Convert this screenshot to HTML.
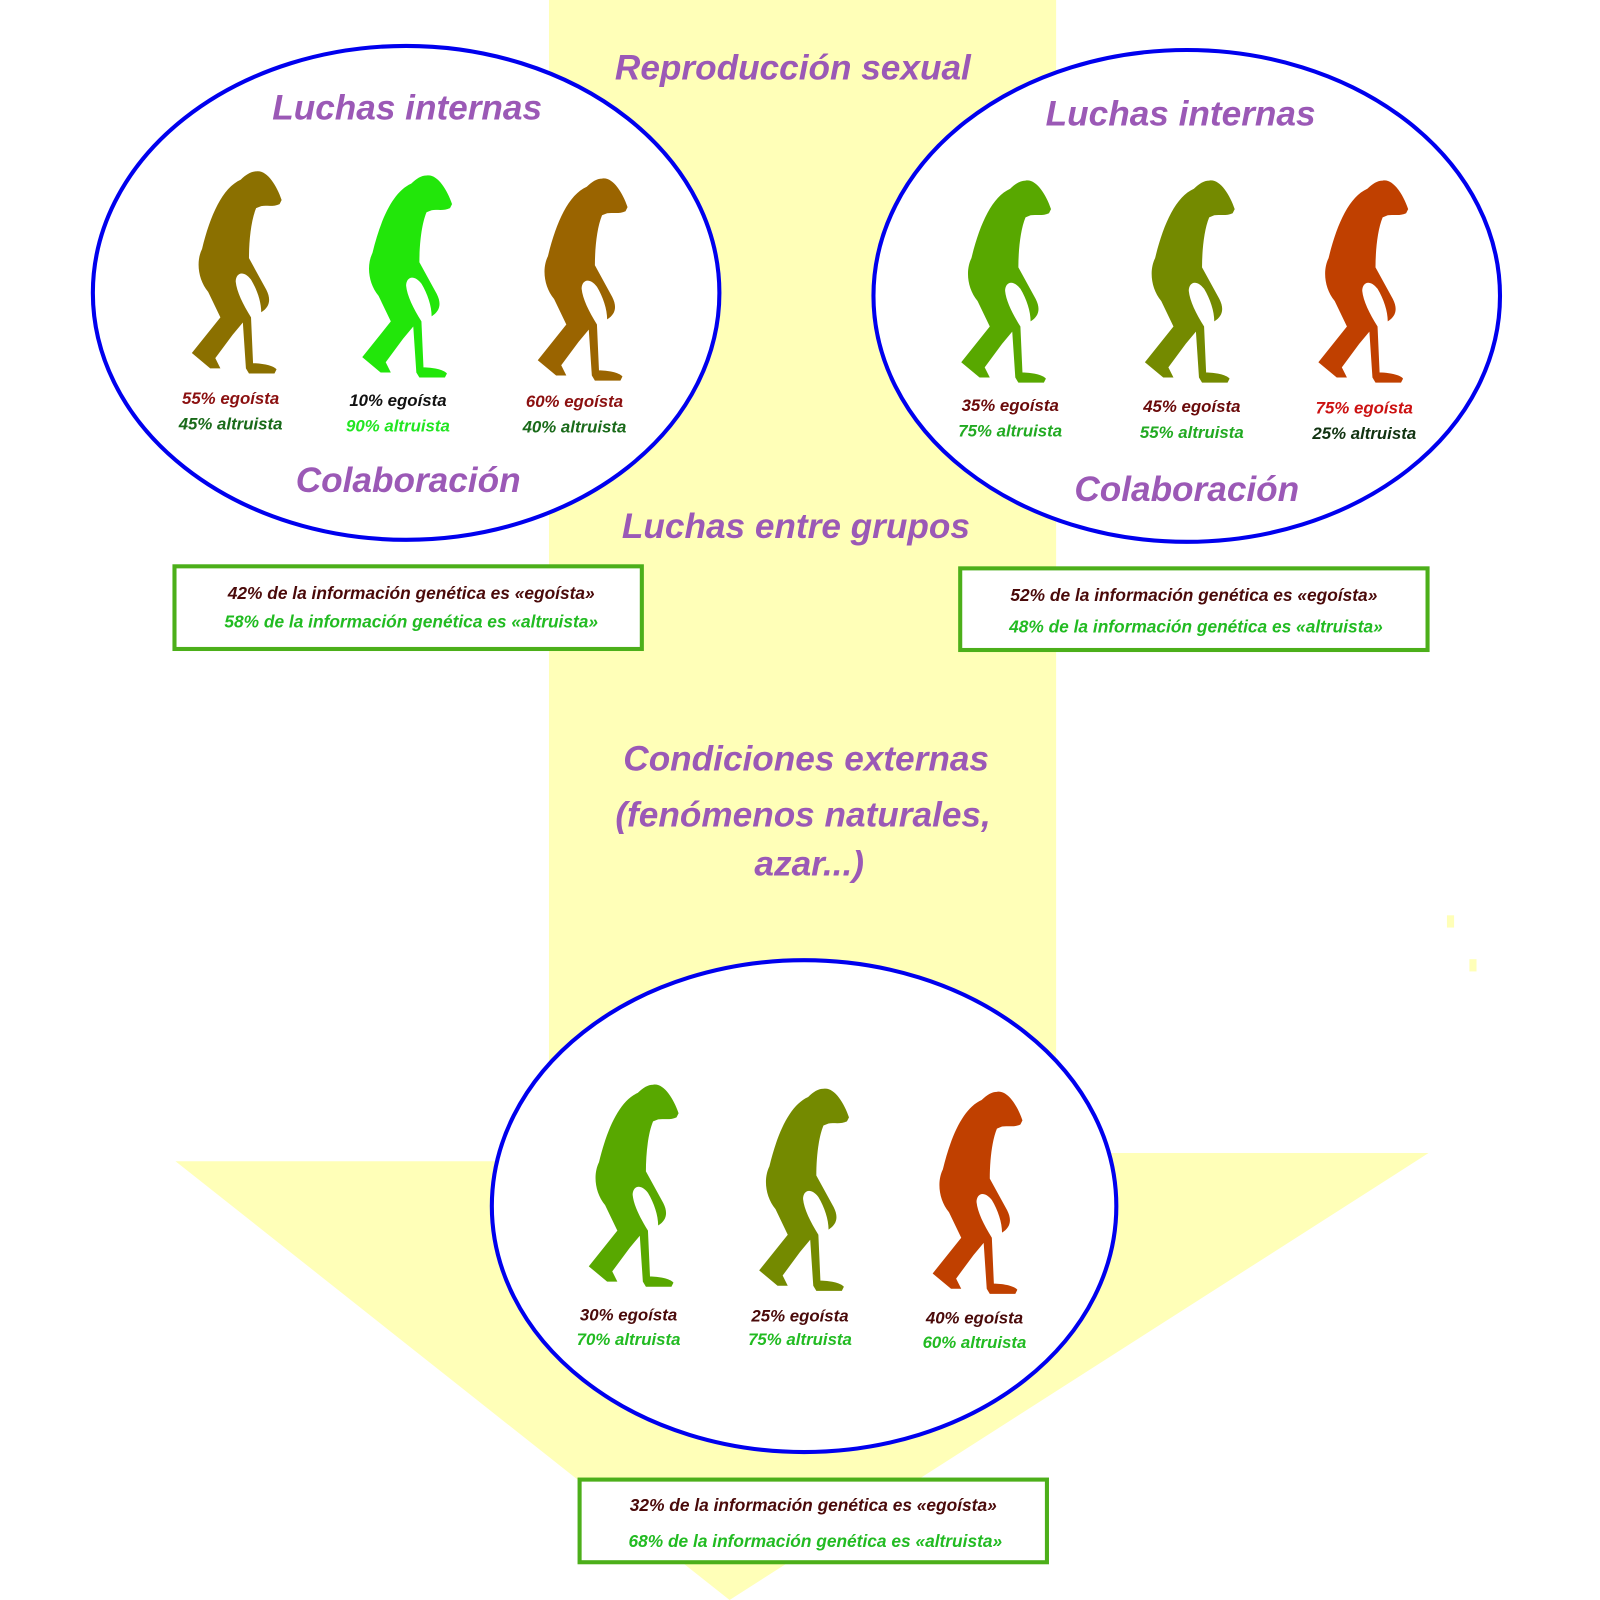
<!DOCTYPE html>
<html><head><meta charset="utf-8"><style>
html,body{margin:0;padding:0;background:#fff;}
svg{display:block;}
text{font-family:"Liberation Sans",sans-serif;font-weight:bold;font-style:italic;text-anchor:middle;}
.t{fill:#9b59b6;font-size:34.5px;}
.s{font-size:16.5px;}
.b{font-size:17px;}
</style></head><body>
<svg width="1600" height="1600" viewBox="0 0 1568 1568" xmlns="http://www.w3.org/2000/svg">
<defs>
<path id="ape" d="M75 12 C85 10 95 25 100 40 L98 44 C92 47 85 45 80 46 L75 48 C70 60 68 80 68 97 L85 128 C90 138 88 145 80 150 C80 140 76 128 70 118 C62 108 55 112 55 120 C56 130 62 142 70 155 L72 200 C80 200 92 202 95 206 L93 210 L68 210 L65 205 L62 160 L52 172 L35 195 L40 205 L30 205 L12 190 L40 155 L28 130 C18 118 16 100 22 88 C30 55 42 28 60 20 C65 15 70 12 75 12 Z"/>
</defs>
<rect width="1568" height="1568" fill="#fff"/>
<rect x="538" y="0" width="497" height="1140" fill="#ffffb8"/>
<polygon points="172,1138 538,1138 538,1130 1400,1130 715,1568" fill="#ffffb8"/>
<rect x="1418" y="897" width="7" height="12" fill="#ffffb8"/>
<rect x="1440" y="940" width="7" height="12" fill="#ffffb8"/>

<ellipse cx="398" cy="287" rx="307" ry="242" fill="#fff" stroke="#0000ee" stroke-width="4"/>
<ellipse cx="1163" cy="290" rx="307" ry="241" fill="#fff" stroke="#0000ee" stroke-width="4"/>
<ellipse cx="788" cy="1182" rx="306" ry="241" fill="#fff" stroke="#0000ee" stroke-width="4"/>

<text class="t" x="777" y="78">Reproducción sexual</text>
<text class="t" x="399" y="117">Luchas internas</text>
<text class="t" x="1157" y="123">Luchas internas</text>
<text class="t" x="400" y="482">Colaboración</text>
<text class="t" x="1163" y="491">Colaboración</text>
<text class="t" x="780" y="527">Luchas entre grupos</text>
<text class="t" x="790" y="755">Condiciones externas</text>
<text class="t" x="787" y="810">(fenómenos naturales,</text>
<text class="t" x="793" y="858">azar...)</text>

<use href="#ape" transform="translate(176,156)" fill="#8b7000"/>
<use href="#ape" transform="translate(343,160)" fill="#22e60a"/>
<use href="#ape" transform="translate(515,163)" fill="#9a6400"/>
<use href="#ape" transform="translate(930,165)" fill="#58a800"/>
<use href="#ape" transform="translate(1110,165)" fill="#748a00"/>
<use href="#ape" transform="translate(1280,165)" fill="#c04000"/>
<use href="#ape" transform="translate(565,1051)" fill="#58a800"/>
<use href="#ape" transform="translate(732,1055)" fill="#748a00"/>
<use href="#ape" transform="translate(902,1058)" fill="#c04000"/>

<text class="s" x="226" y="396" fill="#8b1010">55% egoísta</text>
<text class="s" x="226" y="421" fill="#1a6a1a">45% altruista</text>
<text class="s" x="390" y="398" fill="#111">10% egoísta</text>
<text class="s" x="390" y="423" fill="#22e622">90% altruista</text>
<text class="s" x="563" y="399" fill="#8b1010">60% egoísta</text>
<text class="s" x="563" y="424" fill="#1a6a1a">40% altruista</text>

<text class="s" x="990" y="403" fill="#6a0a0a">35% egoísta</text>
<text class="s" x="990" y="428" fill="#22aa22">75% altruista</text>
<text class="s" x="1168" y="404" fill="#6a0a0a">45% egoísta</text>
<text class="s" x="1168" y="429" fill="#22aa22">55% altruista</text>
<text class="s" x="1337" y="405" fill="#cc1111">75% egoísta</text>
<text class="s" x="1337" y="430" fill="#113311">25% altruista</text>

<text class="s" x="616" y="1294" fill="#4a0a0a">30% egoísta</text>
<text class="s" x="616" y="1318" fill="#22bb22">70% altruista</text>
<text class="s" x="784" y="1295" fill="#4a0a0a">25% egoísta</text>
<text class="s" x="784" y="1318" fill="#22bb22">75% altruista</text>
<text class="s" x="955" y="1297" fill="#4a0a0a">40% egoísta</text>
<text class="s" x="955" y="1321" fill="#22bb22">60% altruista</text>

<rect x="171" y="555" width="458" height="81" fill="#fff" stroke="#4caf1a" stroke-width="4"/>
<text class="b" x="403" y="587" fill="#4a0a0a">42% de la información genética es «egoísta»</text>
<text class="b" x="403" y="615" fill="#22bb22">58% de la información genética es «altruista»</text>

<rect x="941" y="557" width="458" height="80" fill="#fff" stroke="#4caf1a" stroke-width="4"/>
<text class="b" x="1170" y="589" fill="#4a0a0a">52% de la información genética es «egoísta»</text>
<text class="b" x="1172" y="620" fill="#22bb22">48% de la información genética es «altruista»</text>

<rect x="568" y="1450" width="458" height="81" fill="#fff" stroke="#4caf1a" stroke-width="4"/>
<text class="b" x="797" y="1481" fill="#4a0a0a">32% de la información genética es «egoísta»</text>
<text class="b" x="799" y="1516" fill="#22bb22">68% de la información genética es «altruista»</text>
</svg>
</body></html>
